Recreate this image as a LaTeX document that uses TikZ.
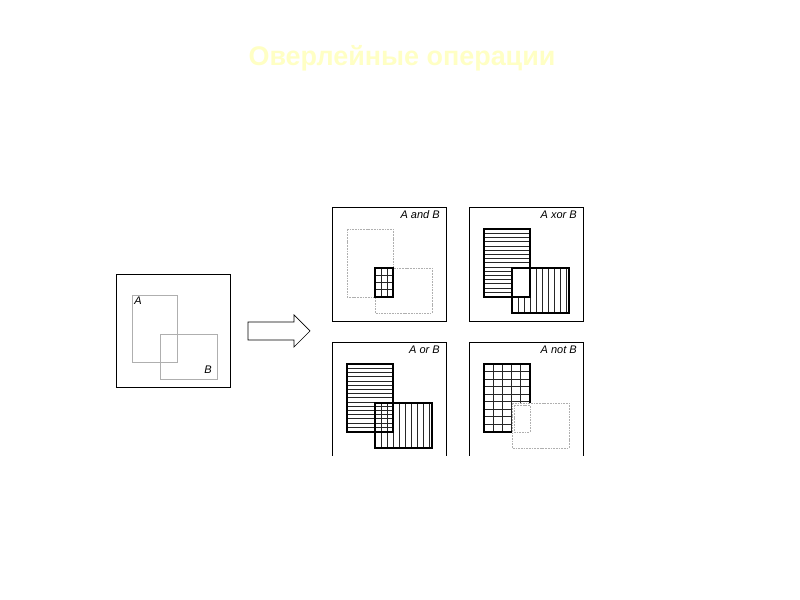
\documentclass[tikz,border=0pt]{standalone}
\usepackage{fontspec}
\setmainfont{Liberation Sans}
\usepackage{xcolor}

\definecolor{titleyellow}{RGB}{255,255,196}
\definecolor{ghostgray}{RGB}{175,175,175}

\tikzset{
	frame/.style	= {draw=black, line width=0.8pt},
	ghost/.style	= {draw=ghostgray, line width=0.7pt, dash pattern=on 1.5pt off 0.8pt},
	region/.style	= {draw=black, line width=1.1pt},
	hatch/.style	= {draw=black!85, line width=0.4pt},
	oplabel/.style	= {anchor=east, inner sep=0pt, font=\fontsize{9.4}{11}\selectfont\itshape},
	setlabel/.style	= {inner sep=0pt, font=\fontsize{9.4}{11}\selectfont\itshape}
}

% horizontal / vertical hatch inside a rectangle
\newcommand{\HLines}[5]{%
	\begin{scope}
		\clip (#1,#2) rectangle (#3,#4);
		\foreach \k in {1,...,30} \draw[hatch] (#1,#2+\k*#5) -- (#3,#2+\k*#5);
	\end{scope}}
\newcommand{\VLines}[5]{%
	\begin{scope}
		\clip (#1,#2) rectangle (#3,#4);
		\foreach \k in {1,...,30} \draw[hatch] (#1+\k*#5,#2) -- (#1+\k*#5,#4);
	\end{scope}}

\begin{document}
\begin{tikzpicture}[x=0.03cm, y=-0.03cm]
	\useasboundingbox (0,0) rectangle (800,600);
	
	\node[text=titleyellow, font=\fontsize{23}{27}\selectfont\bfseries] (title) at (402,58) {Оверлейные операции};
	
	% source layers
	\begin{scope}[shift={(116,274)}]
		\draw[frame] (0,0) rectangle (114,113);
		\draw[ghost, solid] (16,21) rectangle (61,88);
		\draw[ghost, solid] (44,60) rectangle (101,105);
		\node[setlabel] (labA) at (22,27) {A};
		\node[setlabel] (labB) at (92,96) {B};
	\end{scope}
	
	% arrow
	\draw[black, line width=0.6pt, fill=white]
		(248,322) -- (294,322) -- (294,315) -- (310,331) -- (294,347) -- (294,340) -- (248,340) -- cycle;
	
	% A and B
	\begin{scope}[shift={(332,207)}]
		\draw[frame] (0,0) rectangle (114,114);
		\draw[ghost] (15,22) rectangle (61,90);
		\draw[ghost] (43,61) rectangle (100,106);
		\HLines{43}{61}{61}{90}{7}
		\VLines{43}{61}{61}{90}{6}
		\draw[region] (43,61) rectangle (61,90);
		\node[oplabel] (andB) at (108,8) {A and B};
	\end{scope}
	
	% A xor B
	\begin{scope}[shift={(469,207)}]
		\draw[frame] (0,0) rectangle (114,114);
		\HLines{15}{22}{61}{90}{4.2}
		\VLines{43}{61}{100}{106}{6}
		\fill[white] (43,61) rectangle (61,90);
		\draw[region] (15,22) rectangle (61,90);
		\draw[region] (43,61) rectangle (100,106);
		\node[oplabel] (xorB) at (108,8) {A xor B};
	\end{scope}
	
	% A or B
	\begin{scope}[shift={(332,342)}]
		\draw[frame] (0,114) -- (0,0) -- (114,0) -- (114,114);
		\HLines{15}{22}{61}{90}{4.2}
		\VLines{43}{61}{100}{106}{6}
		\draw[region] (15,22) rectangle (61,90);
		\draw[region] (43,61) rectangle (100,106);
		\node[oplabel] (orB) at (108,8) {A or B};
	\end{scope}
	
	% A not B
	\begin{scope}[shift={(469,342)}]
		\draw[frame] (0,114) -- (0,0) -- (114,0) -- (114,114);
		\HLines{15}{22}{61}{90}{7.5}
		\VLines{15}{22}{61}{90}{9}
		\fill[white] (43,61) rectangle (61,90);
		\draw[ghost] (43,61) rectangle (100,106);
		\draw[ghost] (45,63) rectangle (61,90);
		\draw[region] (43,90) -- (15,90) -- (15,22) -- (61,22) -- (61,61);
		\node[oplabel] (notB) at (108,8) {A not B};
	\end{scope}
\end{tikzpicture}
\end{document}
